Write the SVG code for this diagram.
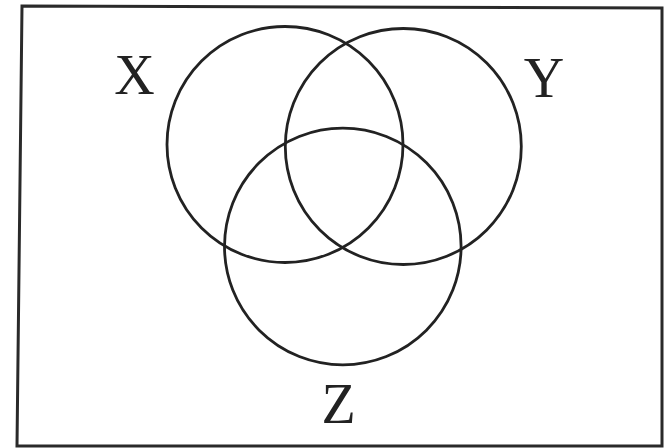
<svg xmlns="http://www.w3.org/2000/svg" width="664" height="448" viewBox="0 0 664 448">
<style>
.frame{fill:none;stroke:#2a2a2a;stroke-width:3}
.set{fill:none;stroke:#222;stroke-width:2.8}
.lbl{font-family:"Liberation Serif","Times New Roman",serif;font-size:56px;fill:#222;text-anchor:middle}
</style>
<rect width="664" height="448" fill="#fff"/>
<polygon class="frame" points="22,6 662,8 662,446 17,446"/>
<g id="setX"><circle class="set" cx="285" cy="144.5" r="118"/><text class="lbl" x="134.5" y="94">X</text></g>
<g id="setY"><circle class="set" cx="403.3" cy="146.5" r="118"/><text class="lbl" x="544" y="97">Y</text></g>
<g id="setZ"><circle class="set" cx="342.8" cy="246.5" r="118.3"/><text class="lbl" x="338.5" y="422.5">Z</text></g>
<g id="connectors"></g>
</svg>
